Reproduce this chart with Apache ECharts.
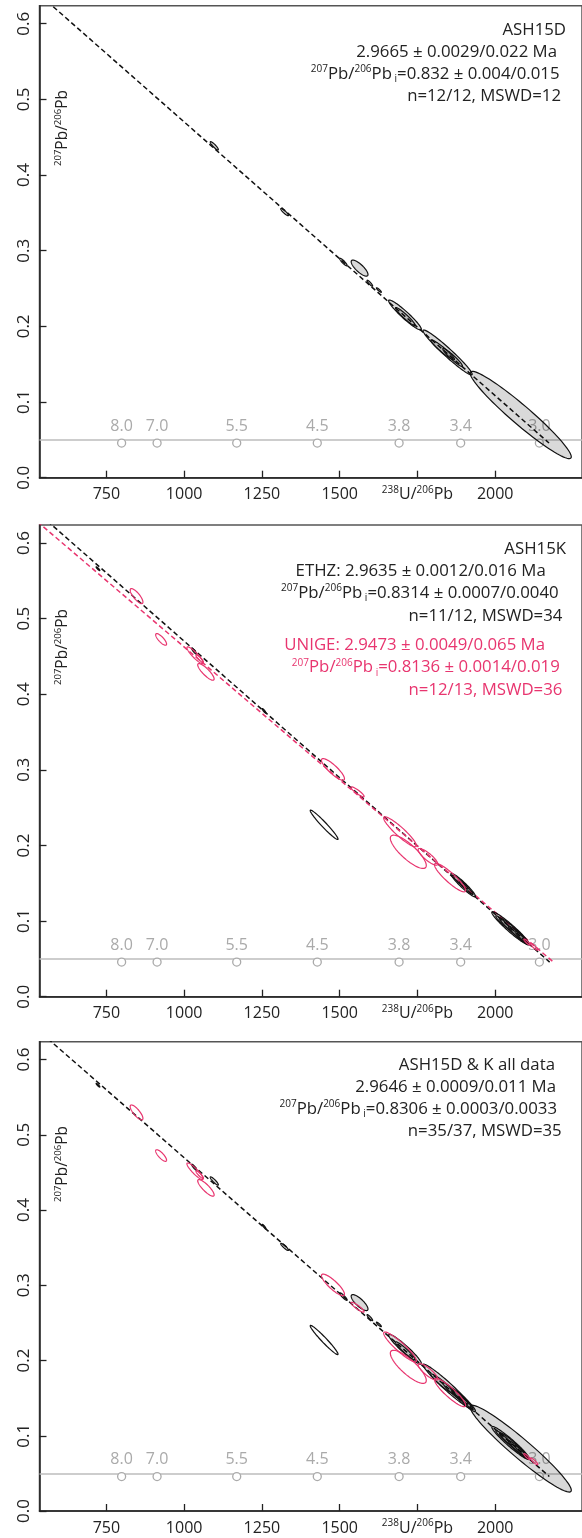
<!DOCTYPE html>
<html><head><meta charset="utf-8">
<script src="https://cdn.jsdelivr.net/npm/echarts@6.0.0/dist/echarts.min.js"></script>
<style>html,body{margin:0;padding:0;background:#fff}#c{width:582px;height:1538px}</style>
</head><body><div id="c"></div>
<script>
// ---------- data ----------
const xTicks = [750, 1000, 1250, 1500, 1750, 2000];
const yTicks = [0, 0.1, 0.2, 0.3, 0.4, 0.5, 0.6];
const concAges = ['8.0', '7.0', '5.5', '4.5', '3.8', '3.4', '3.0'];
const concX = [799, 913, 1169, 1428, 1691, 1889, 2142];
const concY = 0.0458;
// discordia: [upper intercept 207Pb/206Pb_i, lower intercept 238U/206Pb]
const lineD = [0.832, 2173];
const lineEthz = [0.8314, 2175];
const lineUnige = [0.8136, 2187];
const lineAll = [0.8306, 2174];
// ellipses: [238U/206Pb, half-width, 207Pb/206Pb, half-height, rho]
const ash15D = [
  [1097, 13, 0.4386, 0.0055, -0.9],
  [1323, 12.5, 0.351, 0.0047, -0.9],
  [1512, 12, 0.285, 0.005, -0.9],
  [1564, 27, 0.277, 0.0106, -0.8],
  [1597, 9, 0.257, 0.004, -0.9],
  [1710, 52.6, 0.215, 0.0198, -0.95],
  [1711, 31.5, 0.213, 0.0119, -0.95],
  [1847, 79, 0.1655, 0.0297, -0.97],
  [1831, 38, 0.169, 0.0132, -0.95],
  [1863, 31.6, 0.159, 0.0119, -0.95],
  [2082, 162.6, 0.0829, 0.0577, -0.958],
  [1626, 8, 0.248, 0.003, -0.9]
];
const ash15K_ethz = [
  [723, 6, 0.566, 0.0025, -0.9],
  [1032, 8, 0.457, 0.004, -0.9],
  [1257, 6, 0.378, 0.003, -0.9],
  [1897, 39.5, 0.1476, 0.0155, -0.95],
  [1888, 25, 0.1516, 0.0093, -0.95],
  [1907, 22, 0.1437, 0.0085, -0.95],
  [2049.5, 60.5, 0.0904, 0.022, -0.96],
  [2058, 44, 0.088, 0.016, -0.96],
  [2074, 31.5, 0.0815, 0.0119, -0.95],
  [2083, 20, 0.079, 0.008, -0.95],
  [2027, 25, 0.0975, 0.0095, -0.95]
];
const ash15K_ethzOut = [
  [1450, 44.7, 0.2273, 0.0194, -0.97]
];
const ash15K_unige = [
  [847, 20.5, 0.5298, 0.0099, -0.8],
  [926, 17.5, 0.4725, 0.0077, -0.8],
  [1035, 26, 0.4516, 0.011, -0.9],
  [1050, 12, 0.447, 0.005, -0.9],
  [1070, 26.4, 0.4295, 0.011, -0.85],
  [1478.5, 36.9, 0.3006, 0.0143, -0.86],
  [1557.5, 21, 0.2709, 0.0066, -0.9],
  [1694, 52.6, 0.2181, 0.0198, -0.92],
  [1720.6, 57.8, 0.1916, 0.022, -0.82],
  [1783.7, 31.6, 0.185, 0.011, -0.85],
  [1854.8, 50, 0.1575, 0.0188, -0.9],
  [2102, 10, 0.0723, 0.004, -0.9],
  [2125, 12, 0.066, 0.0045, -0.9]
];

// ---------- layout / style ----------
const FONT = '"Open Sans", "Noto Sans", sans-serif';
const INK = '#222';
const PINK = '#e8356f';
const GREY = '#aaaaaa';
const grids = [
  {left: 39.5, top: 5.7, width: 552.5, height: 472},
  {left: 39.5, top: 525, width: 552.5, height: 471.7},
  {left: 39.5, top: 1041.7, width: 552.5, height: 472.3}
];
const XMIN = 535, XMAX = 2279, YMIN = 0, YMAX = 0.6238;

const supRich = {
  sup: {fontSize: 10, lineHeight: 11, verticalAlign: 'top', fontFamily: FONT},
  sub: {fontSize: 10, lineHeight: 10, verticalAlign: 'bottom', fontFamily: FONT}
};
const nameRich = {
  sup: {fontSize: 9.5, lineHeight: 10, verticalAlign: 'top', fontFamily: FONT}
};

function ellipseSeries(data, gi, stroke, fill, z) {
  return {
    type: 'custom', xAxisIndex: gi, yAxisIndex: gi, z: z || 5,
    data: data, encode: {x: 0, y: 2}, silent: true,
    renderItem: function (params, api) {
      const x = api.value(0), sx = api.value(1), y = api.value(2), sy = api.value(3), r = api.value(4);
      const q = Math.sqrt(1 - r * r);
      const pts = [];
      for (let i = 0; i < 90; i++) {
        const t = i / 90 * 2 * Math.PI;
        const c = Math.cos(t), s = Math.sin(t);
        pts.push(api.coord([x + sx * c, y + sy * (r * c + q * s)]));
      }
      return {type: 'polygon', shape: {points: pts},
        style: {fill: fill, stroke: stroke, lineWidth: 1.2}};
    }
  };
}
function discordia(line, gi, color) {
  return {
    type: 'line', xAxisIndex: gi, yAxisIndex: gi, z: 3, silent: true,
    data: [[0, line[0]], [line[1], concY]], symbol: 'none', clip: true,
    lineStyle: {color: color, width: 1.5, type: [5, 3]}
  };
}
function concordia(gi) {
  return {
    type: 'scatter', xAxisIndex: gi, yAxisIndex: gi, z: 2, silent: true,
    data: concX.map(v => [v, concY]),
    symbol: 'circle', symbolSize: 8,
    itemStyle: {color: '#fff', borderColor: GREY, borderWidth: 1.3, opacity: 1},
    label: {show: true, position: 'top', distance: 4, color: GREY, fontSize: 16, fontFamily: FONT,
      formatter: p => concAges[p.dataIndex]},
    markLine: {silent: true, symbol: 'none', label: {show: false}, z: 1,
      lineStyle: {color: '#bdbdbd', width: 1.5, type: 'solid'},
      data: [{yAxis: concY}]}
  };
}

const xAxes = grids.map((g, i) => ({
  type: 'value', gridIndex: i, min: XMIN, max: XMAX,
  axisLine: {show: true, onZero: false, lineStyle: {color: INK, width: 1.5}},
  axisTick: {show: true, inside: true, length: 7, customValues: xTicks, lineStyle: {color: INK, width: 1.3}},
  axisLabel: {show: true, customValues: xTicks, margin: 7, color: INK, fontSize: 16, fontFamily: FONT, lineHeight: 20,
    formatter: v => v === 1750 ? '{sup|238}U/{sup|206}Pb' : String(v), rich: supRich},
  splitLine: {show: false}
}));
const yAxes = grids.map((g, i) => ({
  type: 'value', gridIndex: i, min: YMIN, max: YMAX,
  axisLine: {show: true, onZero: false, lineStyle: {color: INK, width: 1.5}},
  axisTick: {show: true, inside: true, length: 7, customValues: yTicks, lineStyle: {color: INK, width: 1.3}},
  axisLabel: {show: true, customValues: yTicks, rotate: 90, margin: 7, color: INK, fontSize: 17, fontFamily: FONT,
    formatter: v => v.toFixed(1)},
  splitLine: {show: false}
}));

const series = [];
// panel 1
series.push(concordia(0), discordia(lineD, 0, '#111'), ellipseSeries(ash15D, 0, '#111', 'rgba(0,0,0,0.15)'));
// panel 2
series.push(concordia(1), discordia(lineEthz, 1, '#111'), discordia(lineUnige, 1, PINK),
  ellipseSeries(ash15K_ethz, 1, '#111', 'rgba(0,0,0,0.15)'),
  ellipseSeries(ash15K_ethzOut, 1, '#111', 'none'),
  ellipseSeries(ash15K_unige, 1, PINK, 'none', 6));
// panel 3
series.push(concordia(2), discordia(lineAll, 2, '#111'),
  ellipseSeries(ash15D, 2, '#111', 'rgba(0,0,0,0.15)'),
  ellipseSeries(ash15K_ethz, 2, '#111', 'rgba(0,0,0,0.15)'),
  ellipseSeries(ash15K_ethzOut, 2, '#111', 'none'),
  ellipseSeries(ash15K_unige, 2, PINK, 'none', 6));

// ---------- annotation text ----------
function txt(text, x, y, color, align) {
  return {type: 'text', x: x, y: y, z: 100, silent: true,
    style: {text: text, align: align || 'right', verticalAlign: 'middle', fill: color || INK,
      fontSize: 16.8, fontFamily: FONT, lineHeight: 20, rich: supRich}};
}
const pbi = v => '{sup|207}Pb/{sup|206}Pb{sub| i}=' + v;
const graphics = [
  txt('ASH15D', 566, 30), txt('2.9665 ± 0.0029/0.022 Ma', 557, 52.3),
  txt(pbi('0.832 ± 0.004/0.015'), 559.5, 74), txt('n=12/12, MSWD=12', 561, 96.7),

  txt('ASH15K', 566, 549.3), txt('ETHZ: 2.9635 ± 0.0012/0.016 Ma', 545.7, 571.7),
  txt(pbi('0.8314 ± 0.0007/0.0040'), 558.6, 593.3), txt('n=11/12, MSWD=34', 562.4, 616),
  txt('UNIGE: 2.9473 ± 0.0049/0.065 Ma', 545, 645.7, PINK),
  txt(pbi('0.8136 ± 0.0014/0.019'), 559.8, 667.7, PINK), txt('n=12/13, MSWD=36', 562.4, 690, PINK),

  txt('ASH15D & K all data', 555, 1065.7), txt('2.9646 ± 0.0009/0.011 Ma', 556, 1087.7),
  txt(pbi('0.8306 ± 0.0003/0.0033'), 557, 1109), txt('n=35/37, MSWD=35', 561.7, 1131.7)
];
[128, 647, 1164].forEach(cy => {
  graphics.push({type: 'text', x: 63, y: cy, rotation: Math.PI / 2, z: 100, silent: true,
    style: {text: '{sup|207}Pb/{sup|206}Pb', align: 'center', verticalAlign: 'middle', fill: INK,
      fontSize: 15.5, fontFamily: FONT, lineHeight: 19, rich: nameRich}});
});

const chart = echarts.init(document.getElementById('c'), null, {renderer: 'canvas'});
chart.setOption({
  animation: false,
  backgroundColor: '#fff',
  grid: grids.map(g => Object.assign({show: true, borderColor: '#555', borderWidth: 1.5, backgroundColor: 'transparent'}, g)),
  xAxis: xAxes, yAxis: yAxes,
  series: series,
  graphic: graphics
});
</script></body></html>
